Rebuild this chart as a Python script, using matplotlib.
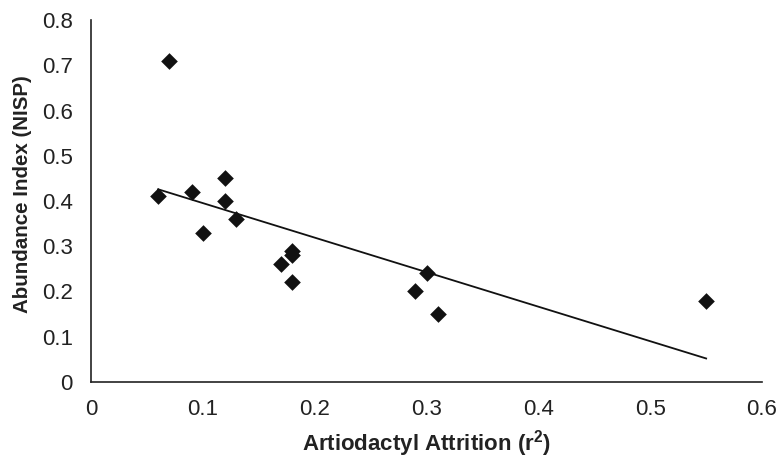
import numpy as np
import matplotlib
matplotlib.use("Agg")
import matplotlib.pyplot as plt

plt.rcParams['font.family'] = ['Liberation Sans', 'DejaVu Sans']
plt.rcParams['mathtext.fontset'] = 'custom'
plt.rcParams['mathtext.bf'] = 'Liberation Sans:bold'
plt.rcParams['mathtext.rm'] = 'Liberation Sans'

attrition = [0.06, 0.07, 0.09, 0.10, 0.12, 0.12, 0.13, 0.17, 0.18, 0.18, 0.18, 0.29, 0.30, 0.31, 0.55]
abundance = [0.41, 0.71, 0.42, 0.33, 0.45, 0.40, 0.36, 0.26, 0.29, 0.28, 0.22, 0.20, 0.24, 0.15, 0.18]
x_ticks = [0, 0.1, 0.2, 0.3, 0.4, 0.5, 0.6]
y_ticks = [0, 0.1, 0.2, 0.3, 0.4, 0.5, 0.6, 0.7, 0.8]

fig = plt.figure(figsize=(7.8, 4.59), dpi=100)
ax = fig.add_axes([0.1167, 0.1678, 0.8603, 0.7886])

x = np.array(attrition)
y = np.array(abundance)
slope, intercept = np.polyfit(x, y, 1)
xl = np.array([x.min(), x.max()])
ax.plot(xl, slope * xl + intercept, color='#111111', lw=1.3, zorder=2)
ax.scatter(x, y, marker='D', s=72, color='#111111', zorder=3, linewidths=0)

ax.set_xlim(0, 0.6)
ax.set_ylim(0, 0.8)
ax.set_xticks(x_ticks)
ax.set_yticks(y_ticks)
ax.set_xticklabels(['0', '0.1', '0.2', '0.3', '0.4', '0.5', '0.6'])
ax.set_yticklabels(['0', '0.1', '0.2', '0.3', '0.4', '0.5', '0.6', '0.7', '0.8'])
ax.tick_params(length=0, labelsize=16, colors='#222222')
ax.tick_params(axis='x', pad=12)
ax.tick_params(axis='y', pad=13)
for s in ['top', 'right']:
    ax.spines[s].set_visible(False)
for s in ['left', 'bottom']:
    ax.spines[s].set_linewidth(1.2)
    ax.spines[s].set_color('#222222')

ax.set_xlabel('Artiodactyl Attrition (r$^{\\mathbf{2}}$)', fontsize=16, fontweight='bold', labelpad=6, color='#222222')
ax.set_ylabel('Abundance Index (NISP)', fontsize=14.8, fontweight='bold', labelpad=9, color='#222222')
ax.yaxis.set_label_coords(-0.088, 0.52)

fig.savefig('out.png', dpi=100)
